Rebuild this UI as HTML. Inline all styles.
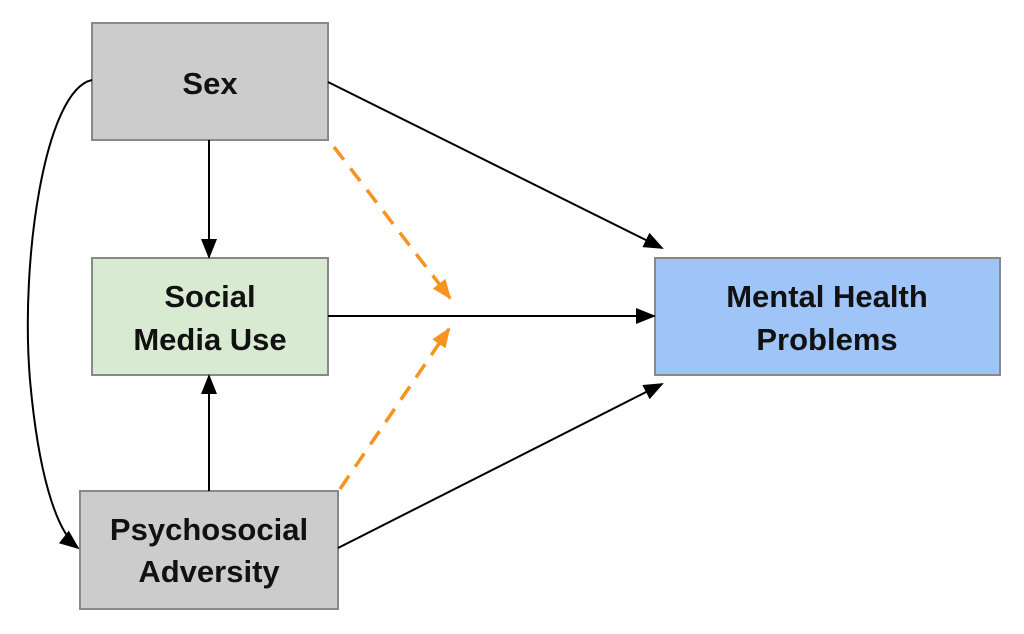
<!DOCTYPE html>
<html><head><style>
html,body{margin:0;padding:0;background:#fff;}
svg{display:block;}
text{font-family:"Liberation Sans",Arial,sans-serif;font-weight:bold;font-size:31px;fill:#111;text-anchor:middle;}
</style></head><body>
<svg width="1024" height="634" viewBox="0 0 1024 634">
<defs>
<marker id="a" markerWidth="10" markerHeight="10" refX="9" refY="5" orient="auto" markerUnits="userSpaceOnUse"><path d="M0,0 L18,5 L0,10Z" transform="scale(0.55,1)"/></marker>
<marker id="b" markerWidth="20" markerHeight="16" refX="18" refY="8" orient="auto" markerUnits="userSpaceOnUse"><path d="M0,0 L20,8 L0,16Z" fill="#000"/></marker>
<marker id="o" markerWidth="20" markerHeight="16" refX="18" refY="8" orient="auto" markerUnits="userSpaceOnUse"><path d="M0,0 L20,8 L0,16Z" fill="#f7931e"/></marker>
</defs>
<rect x="92" y="23" width="236" height="117" fill="#cccccc" stroke="#888" stroke-width="2"/>
<rect x="92" y="258" width="236" height="117" fill="#d9ead3" stroke="#888" stroke-width="2"/>
<rect x="80" y="491" width="258" height="118" fill="#cccccc" stroke="#888" stroke-width="2"/>
<rect x="655" y="258" width="345" height="117" fill="#9fc5f8" stroke="#888" stroke-width="2"/>
<text x="210" y="94">Sex</text>
<text x="210" y="307">Social</text>
<text x="210" y="350">Media Use</text>
<text x="209" y="540">Psychosocial</text>
<text x="209" y="582">Adversity</text>
<text x="827" y="307">Mental Health</text>
<text x="827" y="350">Problems</text>
<g stroke="#000" stroke-width="2" fill="none">
<line x1="209" y1="140" x2="209" y2="257" marker-end="url(#b)"/>
<line x1="209" y1="491" x2="209" y2="376" marker-end="url(#b)"/>
<line x1="328" y1="316" x2="654" y2="316" marker-end="url(#b)"/>
<line x1="328" y1="82" x2="662" y2="248" marker-end="url(#b)"/>
<line x1="338" y1="548" x2="662" y2="384" marker-end="url(#b)"/>
<path d="M92,80 C45,90 20,260 30,380 C38,470 55,530 78,548" marker-end="url(#b)"/>
</g>
<g stroke="#f7931e" stroke-width="3.5" fill="none" stroke-dasharray="16,11">
<line x1="334" y1="147" x2="450" y2="298" marker-end="url(#o)"/>
<line x1="340" y1="489" x2="449" y2="329" marker-end="url(#o)"/>
</g>
</svg>
</body></html>
